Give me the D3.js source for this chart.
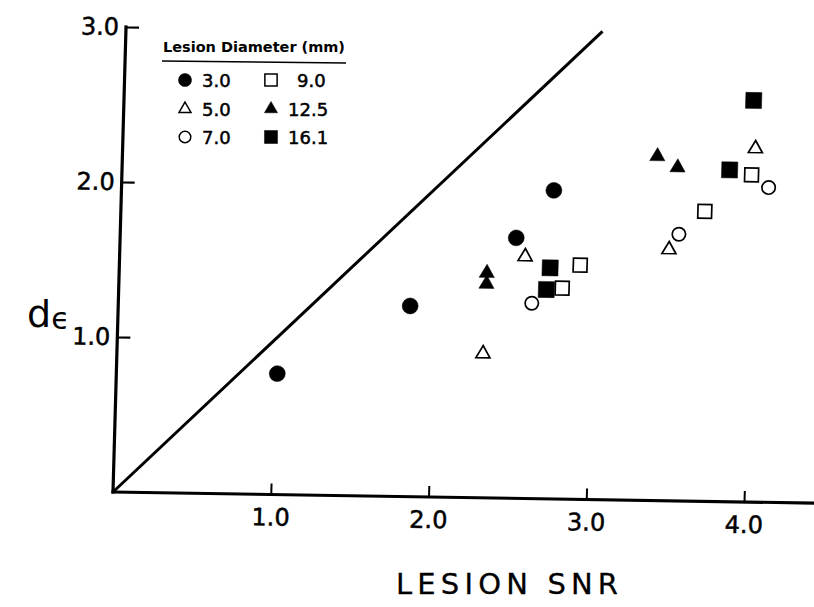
<!DOCTYPE html>
<html>
<head>
<meta charset="utf-8">
<script src="https://cdn.jsdelivr.net/npm/d3@7"></script>
<style>
html,body{margin:0;padding:0;background:#fff;}
svg{display:block;}
text{font-family:"DejaVu Sans",sans-serif;fill:#000;}
</style>
</head>
<body>
<svg id="chart" width="814" height="607"></svg>
<script>
// ---- data ----
const diameters = ["3.0", "5.0", "7.0", "9.0", "12.5", "16.1"];
const snr_3_0  = [1.02, 1.85, 2.51, 2.74];
const de_3_0   = [0.78, 1.23, 1.68, 1.99];
const snr_5_0  = [2.32, 2.57, 3.48, 4.01];
const de_5_0   = [0.93, 1.56, 1.62, 2.28];
const snr_7_0  = [2.62, 3.54, 4.10];
const de_7_0   = [1.26, 1.72, 2.03];
const snr_9_0  = [2.81, 2.92, 3.70, 3.99];
const de_9_0   = [1.36, 1.51, 1.87, 2.11];
const snr_12_5 = [2.33, 2.33, 3.39, 3.52];
const de_12_5  = [1.45, 1.38, 2.22, 2.15];
const snr_16_1 = [2.71, 2.73, 3.85, 3.99];
const de_16_1  = [1.35, 1.49, 2.14, 2.59];
const identityLine = [0, 3.02];
const xTicks = [1, 2, 3, 4];
const yTicks = [1, 2, 3];
const xTitle = "LESION SNR";
const legendTitle = "Lesion Diameter (mm)";

const seriesX = [snr_3_0, snr_5_0, snr_7_0, snr_9_0, snr_12_5, snr_16_1];
const seriesY = [de_3_0, de_5_0, de_7_0, de_9_0, de_12_5, de_16_1];

// marker style per series (shape, filled)
const shapes = [d3.symbolCircle, d3.symbolTriangle, d3.symbolCircle, d3.symbolSquare, d3.symbolTriangle, d3.symbolSquare];
const filled = [true, false, false, false, true, true];
const plotSize = [200, 85, 140, 190, 100, 256];
const legSize  = [135, 62, 105, 150, 75, 170];

const svg = d3.select("#chart");

// scanned plot is slightly skewed: use an affine frame
const g = svg.append("g").attr("transform", "matrix(1,0.0158,-0.028,1,113,492)");

const x = d3.scaleLinear().domain([0, 4.45]).range([0, 702]);
const y = d3.scaleLinear().domain([0, 3]).range([0, -465]);

// axis lines
g.append("line").attr("x1", x(0)).attr("y1", y(0)).attr("x2", x(4.45)).attr("y2", y(0))
  .attr("stroke", "#000").attr("stroke-width", 3.2).attr("stroke-linecap", "square");
g.append("line").attr("x1", x(0)).attr("y1", y(0)).attr("x2", x(0)).attr("y2", y(3))
  .attr("stroke", "#000").attr("stroke-width", 3.2).attr("stroke-linecap", "square");

const xAxis = d3.axisBottom(x).tickValues(xTicks).tickFormat(d3.format(".1f"))
  .tickSizeInner(-11).tickSizeOuter(0).tickPadding(14);
const gx = g.append("g").call(xAxis);
gx.select(".domain").remove();
gx.selectAll(".tick line").attr("stroke", "#000").attr("stroke-width", 2);
gx.selectAll(".tick text").attr("font-size", 24).attr("font-family", "DejaVu Sans")
  .attr("fill", "#000").attr("stroke", "#000").attr("stroke-width", 0.5);

const yAxis = d3.axisLeft(y).tickValues(yTicks).tickFormat(d3.format(".1f"))
  .tickSizeInner(-13).tickSizeOuter(0).tickPadding(7);
const gy = g.append("g").call(yAxis);
gy.select(".domain").remove();
gy.selectAll(".tick line").attr("stroke", "#000").attr("stroke-width", 2.2);
gy.selectAll(".tick text").attr("font-size", 24).attr("font-family", "DejaVu Sans")
  .attr("fill", "#000").attr("stroke", "#000").attr("stroke-width", 0.5);

// identity line
g.append("line")
  .attr("x1", x(identityLine[0])).attr("y1", y(identityLine[0]))
  .attr("x2", x(identityLine[1])).attr("y2", y(identityLine[1]))
  .attr("stroke", "#000").attr("stroke-width", 3);

// points
const table = [];
seriesX.forEach((xs, i) => xs.forEach((v, j) => table.push({s: i, snr: v, de: seriesY[i][j]})));

g.selectAll("path.pt").data(table).enter().append("path")
  .attr("class", "pt")
  .attr("transform", d => `translate(${x(d.snr)},${y(d.de)})`)
  .attr("d", d => d3.symbol().type(shapes[d.s]).size(plotSize[d.s])())
  .attr("fill", d => filled[d.s] ? "#000" : "#fff")
  .attr("stroke", "#000")
  .attr("stroke-width", d => filled[d.s] ? 0.5 : 1.7);

// axis titles
svg.append("text").attr("x", 396).attr("y", 594).attr("font-size", 29)
  .attr("stroke", "#000").attr("stroke-width", 0.3)
  .attr("textLength", 222).attr("lengthAdjust", "spacing").text(xTitle);

const yl = svg.append("text").attr("x", 27).attr("y", 327).attr("font-size", 38);
yl.append("tspan").text("d");
yl.append("tspan").attr("font-size", 30).attr("dy", 2).text("ϵ");

// legend
const leg = svg.append("g");
leg.append("text").attr("x", 163).attr("y", 52).attr("font-size", 13.5).attr("font-weight", "bold")
  .attr("textLength", 182).attr("lengthAdjust", "spacingAndGlyphs").text(legendTitle);
leg.append("line").attr("x1", 162).attr("y1", 61).attr("x2", 346).attr("y2", 63)
  .attr("stroke", "#000").attr("stroke-width", 1.6);

const colX = [185, 271];
const textX = [202, 288];
const rowY = [80, 109, 137];
diameters.forEach((lab, i) => {
  const c = Math.floor(i / 3), r = i % 3;
  leg.append("path")
    .attr("transform", `translate(${colX[c]},${rowY[r]})`)
    .attr("d", d3.symbol().type(shapes[i]).size(legSize[i])())
    .attr("fill", filled[i] ? "#000" : "#fff")
    .attr("stroke", "#000").attr("stroke-width", filled[i] ? 0.5 : 1.5);
  leg.append("text").attr("x", textX[c] + (lab === "9.0" ? 9 : 0)).attr("y", rowY[r] + 7)
    .attr("font-size", 18).attr("stroke", "#000").attr("stroke-width", 0.5).text(lab);
});
</script>
</body>
</html>
